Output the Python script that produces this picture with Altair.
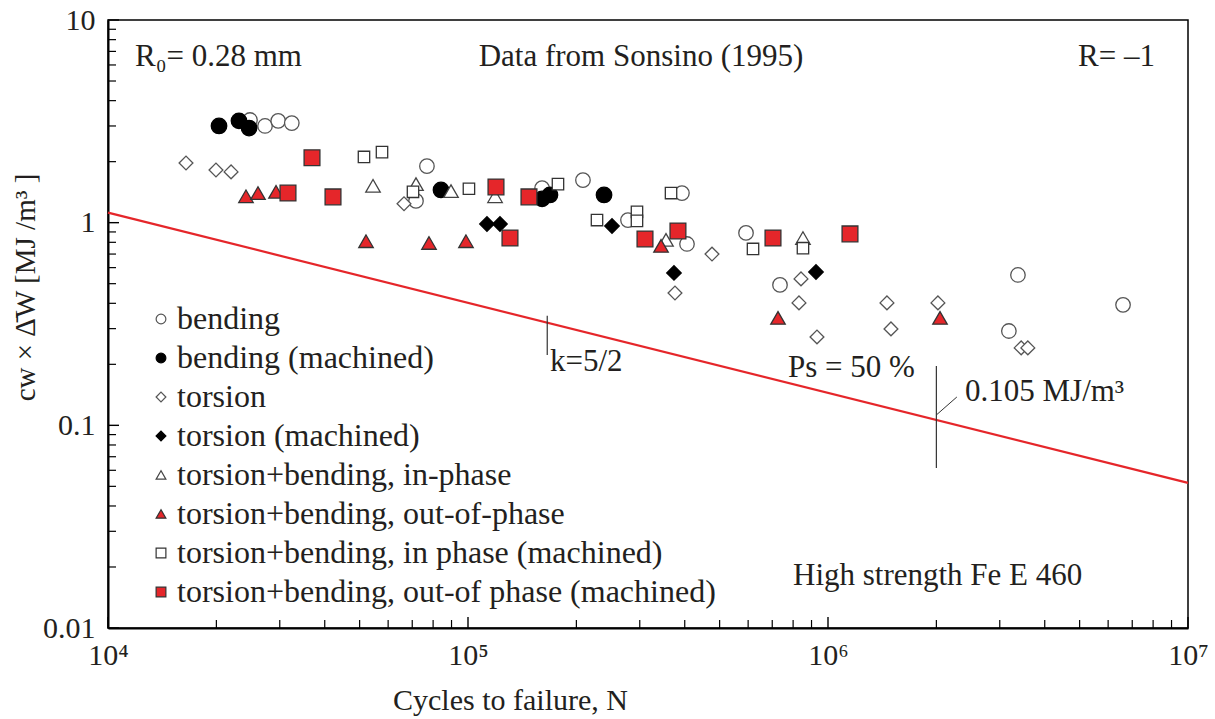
import altair as alt
import pandas as pd

SERIES = [
    "bending",
    "bending (machined)",
    "torsion",
    "torsion (machined)",
    "torsion+bending, in-phase",
    "torsion+bending, out-of-phase",
    "torsion+bending, in phase (machined)",
    "torsion+bending, out-of phase (machined)",
]

# Cycles to failure N and c_W x dW [MJ/m^3]
bend_N = [24800, 27300, 29700, 32400, 71700, 76900, 160600, 208600, 278200, 392900,
          405800, 591900, 735600, 3.18e6, 3.37e6, 6.60e6]
bend_W = [3.21, 3.00, 3.18, 3.10, 1.28, 1.90, 1.48, 1.62, 1.03, 1.40,
          0.785, 0.89, 0.493, 0.292, 0.552, 0.393]

bendm_N = [20340, 23110, 24650, 84140, 160600, 168900, 238700]
bendm_W = [3.00, 3.18, 2.93, 1.45, 1.31, 1.37, 1.37]

tors_N = [16470, 19950, 21970, 66410, 476200, 375800, 841400, 830600, 932000,
          1.458e6, 1.496e6, 2.02e6, 3.44e6, 3.59e6]
tors_W = [1.97, 1.82, 1.78, 1.24, 0.70, 0.45, 0.528, 0.402, 0.273,
          0.402, 0.299, 0.402, 0.241, 0.241]

torsm_N = [112900, 122700, 251200, 373400, 926100]
torsm_W = [0.985, 0.985, 0.963, 0.565, 0.571]

tbin_N = [54470, 71700, 89700, 118900, 354800, 852000]
tbin_W = [1.52, 1.55, 1.43, 1.35, 0.822, 0.84]

tbout_N = [24170, 26100, 29290, 52090, 77930, 98720, 343700, 726300, 2.047e6]
tbout_W = [1.35, 1.40, 1.42, 0.81, 0.794, 0.81, 0.768, 0.339, 0.339]

tbinm_N = [51410, 57690, 70340, 100600, 177800, 228200, 294700, 294700, 366400,
           619000, 852000]
tbinm_W = [2.11, 2.23, 1.42, 1.47, 1.55, 1.03, 1.13, 1.02, 1.40, 0.742, 0.748]

tboutm_N = [31620, 36870, 42170, 119600, 147700, 130800, 310200, 383000, 703400, 1.151e6]
tboutm_W = [1.40, 2.09, 1.34, 1.50, 1.34, 0.84, 0.831, 0.91, 0.84, 0.88]

# Design curve Ps = 50 %
curve_N = [1e4, 1e7]
curve_W = [1.12, 0.052]

# marker ticks on the curve
k_mark_N = 1.66e5
k_mark_W = [0.347, 0.2225]
ref_mark_N = 2.0e6
ref_mark_W = [0.196, 0.0616]
leader_N = [2.0e6, 2.28e6]
leader_W = [0.1125, 0.138]

X_TICKS = [1e4, 1e5, 1e6, 1e7]
Y_TICKS = [0.01, 0.1, 1, 10]
X_LABELS = {"10000": "10⁴", "100000": "10⁵", "1000000": "10⁶", "10000000": "10⁷"}

SHAPES = ["circle", "circle", "diamond", "diamond", "triangle-up", "triangle-up",
          "square", "square"]
SIZES = [210, 240, 190, 210, 210, 210, 130, 250]
RED = "#e5262a"
FILLS = ["white", "black", "white", "black", "white", RED, "white", RED]
STROKES = ["#555555", "black", "#555555", "black", "#444444", "#333333", "#333333", "#333333"]

FONT = "Liberation Serif"
TXT = "#231f20"

groups = [
    (bend_N, bend_W), (bendm_N, bendm_W), (tors_N, tors_W), (torsm_N, torsm_W),
    (tbin_N, tbin_W), (tbout_N, tbout_W), (tbinm_N, tbinm_W), (tboutm_N, tboutm_W),
]
rows = []
for name, sz, (ns, ws) in zip(SERIES, SIZES, groups):
    for n, w in zip(ns, ws):
        rows.append({"N": n, "W": w, "series": name, "sz": sz})
pts = pd.DataFrame(rows)

xscale = alt.Scale(type="log", domain=[1e4, 1e7])
yscale = alt.Scale(type="log", domain=[0.01, 10])

label_expr = "{" + ",".join(f"'{k}':'{v}'" for k, v in X_LABELS.items()) + "}[format(datum.value,'d')]"

X_AX = alt.Axis(
    values=X_TICKS, labelExpr=label_expr, ticks=False, grid=False,
    domainColor="black", domainWidth=2, labelFont=FONT, labelFontSize=30,
    labelColor=TXT, labelPadding=12, labelFlush=False, labelOverlap=False,
    title="Cycles to failure, N", titleFont=FONT, titleFontSize=30,
    titleFontWeight="normal", titleColor=TXT, titleX=402, titleY=72,
    titleBaseline="middle", titleAlign="center")
Y_AX = alt.Axis(
    values=Y_TICKS, format="~g", ticks=False, grid=False,
    domainColor="black", domainWidth=2, labelFont=FONT, labelFontSize=30,
    labelColor=TXT, labelPadding=13, labelOverlap=False, labelFlush=False,
    title="cᴡ ×   Δ̄W [MJ /m³ ]", titleFont=FONT, titleFontSize=29,
    titleFontWeight="normal", titleColor=TXT, titleX=-83, titleY=267,
    titleAngle=270, titleAlign="center", titleBaseline="middle")

legend = alt.Legend(
    title=None, orient="none", legendX=37, legendY=283,
    labelFont=FONT, labelFontSize=32, labelColor=TXT, labelLimit=800,
    symbolSize=95, symbolStrokeWidth=1.2, rowPadding=7, labelOffset=0, padding=0,
)

points = alt.Chart(pts).mark_point(filled=True, opacity=1, strokeWidth=1.3).encode(
    x=alt.X("N:Q", scale=xscale, axis=X_AX),
    y=alt.Y("W:Q", scale=yscale, axis=Y_AX),
    shape=alt.Shape("series:N", scale=alt.Scale(domain=SERIES, range=SHAPES), legend=legend),
    fill=alt.Fill("series:N", scale=alt.Scale(domain=SERIES, range=FILLS), legend=legend),
    stroke=alt.Stroke("series:N", scale=alt.Scale(domain=SERIES, range=STROKES), legend=legend),
    size=alt.Size("sz:Q", scale=None),
)

curve = alt.Chart(pd.DataFrame({"N": curve_N, "W": curve_W})).mark_line(
    color=RED, strokeWidth=2.2).encode(
    x=alt.X("N:Q", scale=xscale, axis=X_AX),
    y=alt.Y("W:Q", scale=yscale, axis=Y_AX),
)

marks_df = pd.DataFrame({
    "N": [k_mark_N, ref_mark_N],
    "W": [k_mark_W[0], ref_mark_W[0]],
    "W2": [k_mark_W[1], ref_mark_W[1]],
})
mark_rules = alt.Chart(marks_df).mark_rule(color="#333333", strokeWidth=1.2).encode(
    x=alt.X("N:Q", scale=xscale, axis=X_AX),
    y=alt.Y("W:Q", scale=yscale, axis=Y_AX),
    y2="W2:Q",
)
leader = alt.Chart(pd.DataFrame({"N": [leader_N[0]], "N2": [leader_N[1]],
                                 "W": [leader_W[0]], "W2": [leader_W[1]]})).mark_rule(
    color="#333333", strokeWidth=1).encode(
    x=alt.X("N:Q", scale=xscale, axis=X_AX), x2="N2:Q",
    y=alt.Y("W:Q", scale=yscale, axis=Y_AX), y2="W2:Q",
)

# inward minor/major ticks
x_minor = [m * 10 ** e for e in range(4, 7) for m in range(2, 10)]
y_minor = [m * 10.0 ** e for e in range(-2, 1) for m in range(2, 10)]
xt = alt.Chart(pd.DataFrame({"N": x_minor})).mark_rule(color="black", strokeWidth=1.2).encode(
    x=alt.X("N:Q", scale=xscale, axis=X_AX), y=alt.value(608), y2=alt.value(600))
xT = alt.Chart(pd.DataFrame({"N": X_TICKS})).mark_rule(color="black", strokeWidth=1.4).encode(
    x=alt.X("N:Q", scale=xscale, axis=X_AX), y=alt.value(608), y2=alt.value(597))
yt = alt.Chart(pd.DataFrame({"W": y_minor})).mark_rule(color="black", strokeWidth=1.2).encode(
    y=alt.Y("W:Q", scale=yscale, axis=Y_AX), x=alt.value(0), x2=alt.value(8))
yT = alt.Chart(pd.DataFrame({"W": Y_TICKS})).mark_rule(color="black", strokeWidth=1.4).encode(
    y=alt.Y("W:Q", scale=yscale, axis=Y_AX), x=alt.value(0), x2=alt.value(11))


def label(text, x, y, align="left"):
    return alt.Chart(pd.DataFrame({"t": [text]})).mark_text(
        font=FONT, fontSize=31, color=TXT, align=align, baseline="middle").encode(
        text="t:N", x=alt.value(x), y=alt.value(y))


texts = [
    label("R₀= 0.28 mm", 27, 37),
    label("Data from Sonsino (1995)", 533, 37, "center"),
    label("R= –1", 1047, 37, "right"),
    label("k=5/2", 442, 342),
    label("Ps = 50 %", 680, 348),
    label("0.105 MJ/m³", 857, 372),
    label("High strength Fe E 460", 685, 556),
]

chart = alt.layer(points, curve, mark_rules, leader, xt, xT, yt, yT, *texts).properties(
    width=1080, height=608,
    padding={"left": 108, "top": 20, "right": 27, "bottom": 91},
    autosize=alt.AutoSizeParams(type="none"),
    background="white",
).configure_view(stroke="black", strokeWidth=1.5)

chart.save("out.html", embed_options={"renderer": "svg", "actions": False})
